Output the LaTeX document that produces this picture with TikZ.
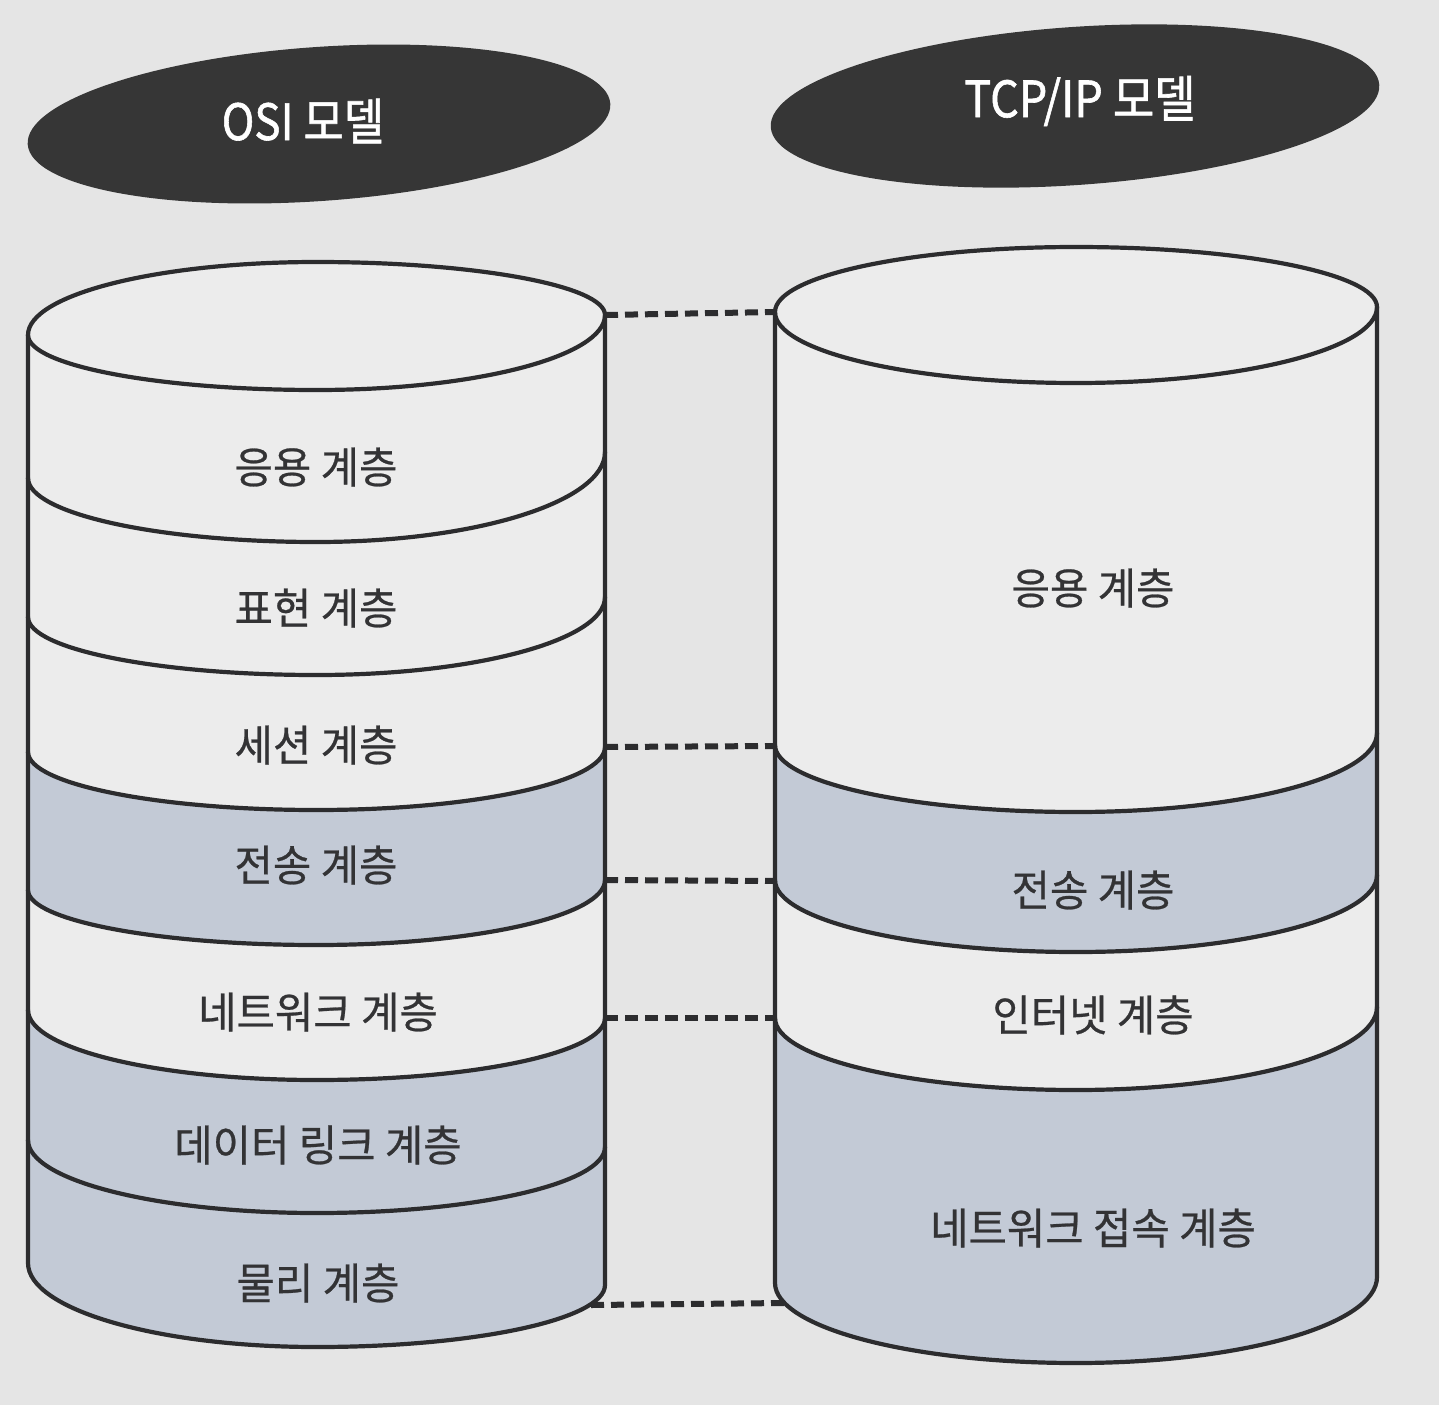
\documentclass[tikz,border=0pt]{standalone}
\usepackage{fontspec}
\usepackage{graphicx}
\usetikzlibrary{shapes.geometric}
\newfontfamily\kr[FakeBold=0.6]{Noto Sans CJK KR}
\newfontfamily\krt[FakeBold=1.2]{Noto Sans CJK KR}
\definecolor{paper}{HTML}{E5E5E5}
\definecolor{bodywhite}{HTML}{ECECEC}
\definecolor{bandblue}{HTML}{C3CAD6}
\definecolor{inkline}{HTML}{2C2C2E}
\definecolor{inktext}{HTML}{333335}
\definecolor{titledark}{HTML}{363636}
\newcommand\sqz[1]{\scalebox{0.97}[1]{#1}}
\tikzset{
  arcLR/.style n args={5}{insert path={ .. controls (#1,{#2+0.552*(#5-#2)}) and ({#1+0.448*((#3-#1)/2)},#5) .. ({(#1+#3)/2},#5) .. controls ({#3-0.448*((#3-#1)/2)},#5) and (#3,{#4+0.552*(#5-#4)}) .. (#3,#4)}},
  arcRL/.style n args={5}{insert path={ .. controls (#3,{#4+0.552*(#5-#4)}) and ({#3-0.448*((#3-#1)/2)},#5) .. ({(#1+#3)/2},#5) .. controls ({#1+0.448*((#3-#1)/2)},#5) and (#1,{#2+0.552*(#5-#2)}) .. (#1,#2)}},
  outline/.style={line width=4.2pt, draw=inkline, line join=round, line cap=round},
  bodyfill/.style={fill=bodywhite},
  band/.style={fill=bandblue},
  linkdash/.style={line width=6pt, draw=inkline, dash pattern=on 13pt off 7pt},
  layerlbl/.style={font=\kr\fontsize{43}{50}\selectfont, text=inktext, inner sep=0pt},
  titlelbl/.style={font=\krt\fontsize{50}{56}\selectfont, text=white, inner sep=0pt},
  titleshape/.style={ellipse, fill=titledark, inner sep=0pt},
}
\begin{document}
\begin{tikzpicture}[x=1pt,y=-1pt]
\useasboundingbox (0,0) rectangle (1439,1405);
\fill[paper] (0,0) rectangle (1439,1405);

% title ellipses
\node[titleshape, minimum width=584pt, minimum height=154pt, rotate=4] (osiShape) at (319,124) {};
\node[titlelbl] (osiLbl) at (303,121) {\scalebox{0.88}[1]{OSI 모델}};
\node[titleshape, minimum width=610pt, minimum height=158pt, rotate=4] (tcpShape) at (1075,106) {};
\node[titlelbl] (tcpLbl) at (1080,101) {\scalebox{0.9}[1]{TCP/IP 모델}};

% ---------- left cylinder (OSI) ----------
\fill[bodyfill] (28,335) [arcLR={28}{335}{605}{315}{262}] -- (605,1285) [arcRL={28}{1263}{605}{1285}{1347}] -- cycle;
\fill[band] (28,752) [arcLR={28}{752}{605}{747}{810}] -- (605,880) [arcRL={28}{890}{605}{880}{945}] -- cycle;
\fill[band] (28,1010) [arcLR={28}{1010}{605}{1018}{1080}] -- (605,1147) [arcRL={28}{1140}{605}{1147}{1213}] -- cycle;
\fill[band] (28,1140) [arcLR={28}{1140}{605}{1147}{1213}] -- (605,1285) [arcRL={28}{1263}{605}{1285}{1347}] -- cycle;
\draw[outline] (28,335) [arcLR={28}{335}{605}{315}{262}] -- (605,1285) [arcRL={28}{1263}{605}{1285}{1347}] -- cycle;
\draw[outline] (28,335) [arcLR={28}{335}{605}{315}{390}];
\foreach \a/\b/\c in {478/452/542, 617/597/675, 752/747/810, 890/880/945, 1010/1018/1080, 1140/1147/1213}
  \draw[outline] (28,\a) [arcLR={28}{\a}{605}{\b}{\c}];

% ---------- right cylinder (TCP/IP) ----------
\fill[bodyfill] (775,312) [arcLR={775}{312}{1377}{307}{247}] -- (1377,1277) [arcRL={775}{1283}{1377}{1277}{1363}] -- cycle;
\fill[band] (775,745) [arcLR={775}{745}{1377}{733}{812}] -- (1377,875) [arcRL={775}{880}{1377}{875}{952}] -- cycle;
\fill[band] (775,1018) [arcLR={775}{1018}{1377}{1007}{1090}] -- (1377,1277) [arcRL={775}{1283}{1377}{1277}{1363}] -- cycle;
\draw[outline] (775,312) [arcLR={775}{312}{1377}{307}{247}] -- (1377,1277) [arcRL={775}{1283}{1377}{1277}{1363}] -- cycle;
\draw[outline] (775,312) [arcLR={775}{312}{1377}{307}{383}];
\foreach \a/\b/\c in {745/733/812, 880/875/952, 1018/1007/1090}
  \draw[outline] (775,\a) [arcLR={775}{\a}{1377}{\b}{\c}];

% ---------- layer labels ----------
\node[layerlbl] (osi7) at (316,467) {\sqz{응용 계층}};
\node[layerlbl] (osi6) at (316,608) {\sqz{표현 계층}};
\node[layerlbl] (osi5) at (316,745) {\sqz{세션 계층}};
\node[layerlbl] (osi4) at (316,865) {\sqz{전송 계층}};
\node[layerlbl] (osi3) at (318,1012) {\sqz{네트워크 계층}};
\node[layerlbl] (osi2) at (318,1145) {\sqz{데이터 링크 계층}};
\node[layerlbl] (osi1) at (318,1283) {\sqz{물리 계층}};
\node[layerlbl] (tcp4) at (1093,588) {\sqz{응용 계층}};
\node[layerlbl] (tcp3) at (1093,890) {\sqz{전송 계층}};
\node[layerlbl] (tcp2) at (1093,1015) {\sqz{인터넷 계층}};
\node[layerlbl] (tcp1) at (1093,1228) {\sqz{네트워크 접속 계층}};

% ---------- dashed correspondence links ----------
\coordinate (oA) at (605,315);  \coordinate (tA) at (775,312);
\coordinate (oB) at (605,747);  \coordinate (tB) at (775,746);
\coordinate (oC) at (605,880);  \coordinate (tC) at (775,881);
\coordinate (oD) at (605,1018); \coordinate (tD) at (775,1018);
\coordinate (oE) at (591,1305); \coordinate (tE) at (784,1303);
\draw[linkdash] (oA) -- (tA);
\draw[linkdash] (oB) -- (tB);
\draw[linkdash] (oC) -- (tC);
\draw[linkdash] (oD) -- (tD);
\draw[linkdash] (oE) -- (tE);
\end{tikzpicture}
\end{document}
